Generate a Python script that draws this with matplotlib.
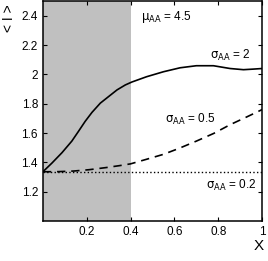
import matplotlib
matplotlib.use("Agg")
import matplotlib.pyplot as plt

# values
x_solid = [0.0, 0.041, 0.087, 0.132, 0.163, 0.193, 0.224, 0.262, 0.30, 0.338, 0.376,
           0.406, 0.473, 0.55, 0.626, 0.70, 0.778, 0.854, 0.915, 0.96, 1.0]
y_solid = [1.336, 1.395, 1.466, 1.545, 1.613, 1.68, 1.741, 1.804, 1.849, 1.894, 1.928,
           1.948, 1.984, 2.018, 2.045, 2.059, 2.059, 2.04, 2.032, 2.036, 2.04]

x_dash = [0.0, 0.07, 0.14, 0.21, 0.29, 0.35, 0.40, 0.47, 0.55, 0.62, 0.70, 0.78, 0.854, 0.93, 1.0]
y_dash = [1.336, 1.337, 1.341, 1.35, 1.365, 1.378, 1.39, 1.42, 1.455, 1.495, 1.545, 1.598, 1.657, 1.71, 1.76]

x_dot = [0.0, 1.0]
y_dot = [1.336, 1.336]

plt.rcParams["font.family"] = ["Liberation Sans", "DejaVu Sans"]
plt.rcParams["mathtext.fontset"] = "dejavusans"

fig = plt.figure(figsize=(2.68, 2.61), dpi=100)
ax = fig.add_axes([0.160, 0.153, 0.818, 0.843])

ax.axvspan(0, 0.4, color="#c0c0c0", lw=0, zorder=0)
ax.plot(x_solid, y_solid, "k-", lw=1.2)
ax.plot(x_dash, y_dash, "k--", lw=1.2, dashes=(5, 3.5))
ax.plot(x_dot, y_dot, "k:", lw=1.0)

ax.set_xlim(0, 1)
ax.set_ylim(1.0, 2.5)
ax.set_xticks([0.2, 0.4, 0.6, 0.8, 1])
ax.set_xticklabels(["0.2", "0.4", "0.6", "0.8", "1"])
ax.set_yticks([1.2, 1.4, 1.6, 1.8, 2.0, 2.2, 2.4])
ax.set_yticklabels(["1.2", "1.4", "1.6", "1.8", "2", "2.2", "2.4"])
ax.tick_params(direction="in", top=True, right=True, labelsize=8.5, length=3, width=0.8)
for s in ax.spines.values():
    s.set_linewidth(1.1)

fs = 8.5
ax.text(0.447, 2.39, r"$\mathrm{\mu_{AA}}$ = 4.5", fontsize=fs, va="center", ha="left")
ax.text(0.763, 2.13, r"$\mathrm{\sigma_{AA}}$ = 2", fontsize=fs, va="center", ha="left")
ax.text(0.557, 1.69, r"$\mathrm{\sigma_{AA}}$ = 0.5", fontsize=fs, va="center", ha="left")
ax.text(0.743, 1.24, r"$\mathrm{\sigma_{AA}}$ = 0.2", fontsize=fs, va="center", ha="left")

fig.text(259 / 268, 1 - 246 / 261, "X", fontsize=11, ha="center", va="center")
fig.text(9 / 268, 1 - 18 / 261, "< I >", fontsize=10, rotation=90, ha="center", va="center")

fig.savefig("out.png", dpi=100)
